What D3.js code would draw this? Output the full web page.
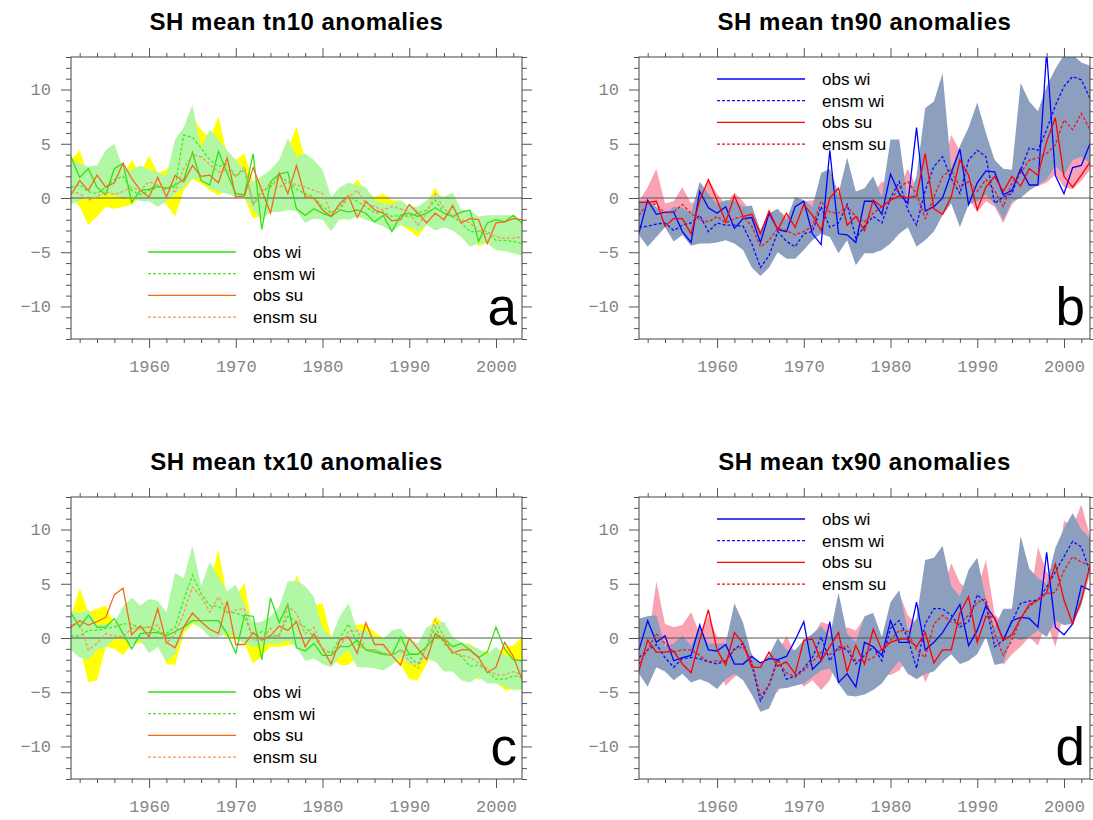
<!DOCTYPE html>
<html>
<head>
<meta charset="utf-8">
<script src="https://cdn.jsdelivr.net/npm/d3@7/dist/d3.min.js"></script>
<style>
  body { margin: 0; background: #fff; }
  svg text { font-family: "Liberation Sans", Arial, sans-serif; }
  .tick text { font-family: "Liberation Mono", "DejaVu Sans Mono", monospace; fill: #858585; }
</style>
</head>
<body>
<div id="chart"></div>
<script>
// years on the x axis
var years = [1951,1952,1953,1954,1955,1956,1957,1958,1959,1960,1961,1962,1963,1964,1965,1966,1967,1968,1969,1970,
  1971,1972,1973,1974,1975,1976,1977,1978,1979,1980,1981,1982,1983,1984,1985,1986,1987,1988,1989,1990,
  1991,1992,1993,1994,1995,1996,1997,1998,1999,2000,2001,2002,2003];
var yearTicks = [1960, 1970, 1980, 1990, 2000];
var valueTicks = [-10, -5, 0, 5, 10];
var legendLabels = ["obs wi", "ensm wi", "obs su", "ensm su"];

// ---- tn10 ----
var tn10WiHi = [3.5,3.2,2.9,3.0,4.4,5.0,2.7,2.6,3.0,2.6,2.4,2.0,5.4,6.5,8.6,4.6,6.3,5.4,4.4,3.5,2.6,1.4,2.0,2.6,3.5,5.5,3.8,
  4.1,3.5,2.6,0.1,1.0,1.4,1.2,1.0,-0.2,-0.5,-0.5,-0.2,-0.8,-0.8,-0.2,0.4,0.1,0.5,-1.1,-1.1,-1.7,-1.6,-1.6,-1.6,-1.6,-2.2];
var tn10WiLo = [-0.6,-0.2,0.0,0.1,0.4,0.3,0.0,0.1,-0.3,-0.3,-0.8,-0.3,0.4,1.0,1.8,1.8,0.9,0.6,0.4,0.1,0.1,-1.1,-2.0,-1.3,-1.3,-1.1,-1.2,
  -2.3,-1.9,-2.0,-3.1,-1.9,-2.0,-1.7,-2.0,-2.3,-2.6,-3.1,-2.5,-2.7,-3.1,-2.5,-3.0,-2.7,-3.0,-3.6,-4.5,-4.2,-4.2,-4.8,-4.9,-5.1,-5.3];
var tn10SuHi = [3.5,4.4,2.0,2.6,4.3,2.6,2.0,3.5,2.3,3.9,2.3,2.6,3.9,5.0,7.5,6.3,5.5,7.5,4.0,3.5,4.1,1.5,2.0,2.5,3.0,4.5,6.6,
  3.5,3.5,1.4,-0.5,0.1,0.7,1.7,0.7,0.1,0.4,-0.2,-0.2,-0.8,-0.8,-0.5,1.0,-0.5,-0.8,-1.7,-2.0,-2.6,-2.0,-2.9,-2.9,-3.4,-3.6];
var tn10SuLo = [0.1,-0.8,-2.5,-1.7,-0.8,-1.0,-0.8,-0.6,0.1,-0.2,0.0,-0.6,-1.7,0.7,1.7,1.4,0.7,0.3,0.6,0.1,0.0,-1.9,-1.6,-0.8,-0.8,0.4,-0.2,
  -1.7,-1.7,-1.4,-2.2,-2.0,-1.9,-1.4,-1.4,-1.1,-1.4,-2.0,-2.5,-3.0,-3.6,-2.5,-1.7,-1.6,-1.9,-2.3,-3.0,-4.5,-4.1,-4.4,-4.5,-4.7,-5.1];
var tn10ObsWi = [3.8,1.9,2.7,1.0,0.3,2.7,3.2,-0.4,0.7,0.8,1.1,0.9,1.2,1.7,4.2,1.6,1.2,4.3,2.3,0.4,0.3,4.1,-2.9,1.5,2.2,2.4,-1.0,
  -1.6,-1.0,-1.4,-1.7,-1.1,-1.3,-1.1,-1.4,-2.2,-1.6,-3.1,-1.6,-1.4,-1.7,-1.4,-0.9,-1.4,-1.7,-1.3,-1.1,-4.0,-2.3,-2.0,-2.2,-1.6,-2.3];
var tn10EnsWi = [1.0,1.2,0.6,0.4,1.0,1.7,2.0,0.7,0.3,0.7,1.0,0.9,1.0,5.8,5.6,4.6,3.5,2.9,3.1,2.0,2.6,-0.6,0.7,1.0,2.0,1.5,0.8,
  0.4,0.1,-0.8,-1.4,-0.8,0.1,-0.3,-0.8,-1.4,-1.3,-1.7,-1.6,-1.7,-1.4,-1.1,-0.2,-1.4,-1.7,-2.3,-3.1,-3.1,-3.3,-3.9,-3.9,-4.0,-4.2];
var tn10ObsSu = [0.3,1.6,0.7,2.1,1.0,1.4,3.2,1.8,0.7,0.1,1.9,0.1,2.1,1.5,3.0,2.0,2.1,1.4,3.7,0.1,0.2,2.8,0.7,-1.4,2.3,0.4,3.0,
  0.1,0.0,-1.1,-1.7,-0.5,0.2,-1.8,-0.3,-1.1,-1.4,-2.1,-2.0,-0.6,-1.4,-2.3,-1.4,-2.0,-0.7,-2.3,-1.9,-2.0,-4.2,-2.3,-2.2,-1.9,-2.0];
var tn10EnsSu = [0.6,0.4,-0.2,0.1,0.6,0.3,0.6,1.0,0.7,1.5,1.2,0.7,0.6,2.7,4.0,3.8,3.1,2.4,2.6,2.0,2.9,-0.6,0.4,1.4,1.0,1.5,1.2,
  1.0,0.7,0.4,-1.4,-1.1,0.1,0.7,-0.5,-0.8,-1.1,-0.8,-1.0,-1.4,-2.5,-1.4,0.4,-1.0,-1.6,-2.0,-2.3,-3.0,-3.1,-3.6,-3.7,-3.7,-3.6];

// ---- tn90 ----
var tn90WiHi = [-0.3,-0.2,-0.8,-1.6,-0.8,-0.9,-1.4,1.5,0.4,-0.5,-0.2,-0.2,-0.8,-0.7,-3.0,-1.4,-1.0,-2.0,0.1,-0.2,-0.8,2.3,2.7,0.4,3.7,0.6,0.9,
  2.0,0.1,5.4,5.4,-0.3,2.0,8.3,8.9,11.5,2.7,4.8,6.5,8.8,6.0,3.5,2.7,2.6,10.6,8.9,8.0,10.3,11.9,13.2,13.2,12.5,12.2];
var tn90WiLo = [-3.4,-4.5,-3.6,-2.7,-4.0,-3.4,-4.4,-4.2,-4.2,-4.1,-3.9,-4.2,-4.8,-6.4,-7.2,-6.4,-5.0,-5.6,-5.6,-4.8,-3.9,-3.3,-3.6,-5.1,-3.9,-6.2,-5.1,
  -5.1,-4.8,-4.2,-3.3,-2.7,-4.5,-3.9,-3.1,-1.6,-0.5,-2.7,-0.6,-0.3,0.3,-0.5,-2.0,-0.3,0.0,0.7,1.2,1.7,3.0,2.1,3.5,3.8,3.2];
var tn90SuHi = [-0.3,1.0,2.7,-0.5,-0.3,1.0,-0.5,0.1,1.7,0.4,-0.6,0.5,-0.3,-1.4,-3.0,-1.7,-1.1,-1.7,-1.4,-0.3,-0.2,0.1,0.1,-0.2,-0.3,0.4,-0.2,
  0.5,1.5,1.4,1.0,2.7,1.0,4.2,1.0,2.5,5.8,4.3,3.0,1.5,4.4,3.6,1.4,2.2,2.6,3.8,3.2,5.5,7.6,5.0,6.0,7.9,6.5];
var tn90SuLo = [-0.6,-0.8,-0.5,-2.5,-2.3,-2.0,-3.1,-2.0,-2.2,-2.0,-2.6,-2.4,-2.4,-3.1,-4.8,-4.3,-3.6,-3.6,-3.9,-3.6,-3.1,-1.4,-2.4,-1.7,-1.4,-2.4,-3.0,
  -2.0,-1.4,-1.0,-0.6,-0.3,-1.2,-2.0,-1.2,-1.5,-0.2,0.1,0.0,-1.3,-0.3,-0.8,-2.3,-0.6,0.2,0.9,1.1,1.4,2.2,1.0,0.8,1.6,2.6];
var tn90ObsWi = [-3.2,-0.2,-1.5,-1.3,-1.3,-3.1,-4.1,0.6,-0.9,-1.4,-0.8,-2.8,-1.9,-1.8,-4.1,-1.4,-2.9,-3.1,-0.8,-0.3,-3.3,-4.3,4.4,-3.3,-3.4,-4.1,-0.3,
  -0.3,-1.5,2.2,0.4,-0.5,6.5,-1.2,-0.8,0.0,2.3,4.5,-0.6,1.4,2.5,2.4,0.3,0.7,2.7,1.2,1.2,13.5,2.1,0.4,2.8,3.0,5.0];
var tn90EnsWi = [-2.7,-2.6,-2.4,-2.3,-3.0,-2.5,-2.3,-1.6,-3.1,-2.3,-2.5,-2.5,-2.6,-4.2,-6.4,-5.3,-3.1,-4.0,-4.5,-3.3,-3.1,-0.8,-2.7,-2.3,-0.6,-3.7,-2.6,
  -1.7,-2.3,0.0,1.5,-1.1,-2.5,0.7,2.9,3.8,1.8,0.4,3.5,4.4,3.8,-0.5,0.1,0.4,2.6,4.6,4.4,6.3,8.5,10.3,11.2,10.9,9.2];
var tn90ObsSu = [-0.4,-0.4,-0.3,-2.6,-1.9,-1.9,-3.3,-0.2,1.7,-0.2,-2.2,0.2,-1.7,-1.5,-3.3,-1.2,-2.9,-1.4,-2.7,-0.6,-1.6,-3.0,0.0,0.9,-2.5,-1.7,-3.0,
  -0.2,-0.8,-0.2,0.2,0.0,0.2,4.1,-1.0,-1.5,0.1,3.5,2.1,-1.1,1.0,2.0,0.6,2.0,1.1,2.7,2.1,5.2,7.4,2.0,1.0,2.1,3.3];
var tn90EnsSu = [-1.6,-0.5,-0.6,-1.4,-1.3,-0.6,-1.4,-2.0,-2.2,-1.7,-2.3,-1.9,-1.7,-2.6,-4.5,-3.9,-2.8,-3.0,-3.4,-3.1,-2.6,-0.3,-1.3,-1.4,-0.8,-1.7,-2.2,
  -1.4,-0.8,-0.3,1.0,1.5,0.4,-1.9,0.1,2.0,2.6,1.0,1.5,0.6,1.7,0.7,-0.8,1.4,2.3,3.5,3.7,4.1,4.9,7.2,6.3,7.8,6.3];

// ---- tx10 ----
var tx10WiHi = [2.5,2.3,2.6,1.2,1.3,1.4,2.9,3.7,3.0,3.6,3.4,2.4,6.0,5.5,8.5,4.8,7.0,5.6,4.3,4.9,3.1,1.4,1.5,2.0,2.9,5.2,5.3,
  4.8,3.8,0.9,0.1,2.0,3.2,0.7,0.7,0.1,-0.1,0.7,0.9,-0.1,-0.5,1.0,1.3,1.5,0.1,-0.4,-0.7,-1.0,-1.5,-0.8,-1.6,-1.9,-2.1];
var tx10WiLo = [-1.1,-1.8,-2.0,-1.1,-0.8,-0.1,-0.1,-0.7,-0.2,-1.4,-0.8,-2.2,-1.5,0.7,1.5,0.9,0.1,0.1,0.4,0.1,-0.5,-0.8,-0.7,-0.5,-0.5,-0.2,-0.8,
  -2.1,-1.9,-2.4,-2.7,-1.7,-1.1,-2.7,-2.7,-2.8,-3.0,-2.5,-1.8,-2.5,-2.4,-1.9,-2.2,-3.1,-3.1,-3.9,-4.1,-3.6,-4.2,-4.2,-4.5,-4.8,-4.7];
var tx10SuHi = [2.0,4.6,2.4,2.7,3.0,1.3,1.3,1.5,0.1,1.5,0.9,2.3,3.0,4.0,6.0,4.0,5.0,8.1,3.8,3.8,5.1,0.5,1.0,1.5,2.0,3.0,5.8,
  4.0,3.0,3.2,0.1,1.0,1.5,1.2,1.3,0.5,0.0,0.1,0.4,0.1,-0.8,0.4,2.0,1.3,-0.2,-0.5,-0.5,-1.2,-1.2,-1.5,-0.8,-0.7,0.1];
var tx10SuLo = [-0.1,-0.8,-4.1,-3.9,-0.8,-1.0,-1.6,-0.5,-0.5,-0.4,-0.4,-2.4,-2.5,0.4,1.3,1.0,0.5,0.5,0.1,-0.1,-0.5,-2.4,-1.6,-0.8,-0.8,-0.7,-0.5,
  -0.9,-1.1,-1.6,-1.8,-2.5,-2.5,-1.8,-1.5,-1.6,-1.6,-1.8,-2.4,-3.8,-3.9,-2.4,-0.8,-1.0,-1.8,-3.0,-3.0,-3.9,-3.3,-4.1,-4.8,-4.7,-4.8];
var tx10ObsWi = [2.3,1.0,2.1,1.0,1.0,1.8,0.4,-1.0,0.4,0.5,0.5,0.2,0.6,1.0,1.6,1.6,1.6,1.6,0.4,-1.4,2.1,2.0,-2.0,3.7,1.4,3.1,-0.9,
  -1.2,-0.5,-1.6,-1.6,-0.8,-0.8,-0.2,-1.1,-1.3,-1.5,-1.6,0.1,-1.5,-1.5,-0.8,0.1,0.0,-0.8,-0.5,-1.1,-1.8,-1.3,1.0,-1.0,-2.0,-2.1];
var tx10EnsWi = [0.2,0.2,0.7,0.7,0.9,1.0,1.3,1.3,0.9,1.0,0.6,0.4,1.0,3.5,5.8,4.1,3.0,2.9,2.4,2.3,2.0,0.0,0.6,0.1,0.3,2.0,1.5,
  1.0,0.1,-1.0,-1.4,0.0,1.3,-0.5,-1.1,-1.1,-1.4,-1.6,-1.1,-1.7,-2.4,-0.8,1.0,-0.5,-1.3,-1.7,-2.6,-2.5,-3.0,-3.8,-3.8,-3.5,-3.6];
var tx10ObsSu = [1.0,1.6,1.2,1.5,1.9,4.0,4.6,0.3,1.1,0.1,2.7,-0.4,-0.9,1.0,2.3,1.5,0.8,0.4,3.4,-0.6,-0.6,0.5,-0.2,0.2,1.1,0.7,1.5,
  -0.8,0.4,-1.0,-2.4,-0.2,0.1,-1.4,1.4,-0.6,-0.6,-1.6,-2.5,0.0,-1.0,-2.0,0.4,-0.2,-1.4,-1.1,-1.1,-1.8,-3.2,-2.7,-0.4,-1.7,-3.8];
var tx10EnsSu = [1.2,1.4,-1.1,-0.5,0.4,0.2,0.1,0.9,1.0,1.0,1.2,-0.5,0.4,2.3,4.7,3.8,2.4,3.8,2.3,2.6,2.7,-0.2,-0.2,0.9,0.0,2.9,2.3,
  0.4,1.0,-1.1,-1.4,-0.8,0.6,0.7,-1.1,-1.1,-1.4,-1.6,-1.1,-2.1,-2.8,-0.8,1.7,0.1,-1.3,-1.6,-1.8,-2.3,-2.8,-3.4,-3.4,-3.1,-3.4];

// ---- tx90 ----
var tx90WiHi = [1.8,2.0,2.1,-0.8,-0.5,0.2,-0.7,1.0,-0.5,-0.5,-0.5,3.2,1.4,-1.6,-2.4,-1.6,0.0,-1.1,-1.1,-0.2,0.4,1.1,0.1,4.2,0.4,-0.4,2.0,
  2.3,0.1,3.3,4.4,0.7,1.8,7.2,7.4,8.5,4.8,3.8,6.3,7.4,3.6,1.0,2.7,2.7,9.4,6.4,5.5,5.0,8.3,10.1,11.5,10.0,9.2];
var tx90WiLo = [-3.3,-4.5,-2.7,-3.1,-3.9,-3.3,-4.1,-3.8,-4.1,-4.7,-3.8,-3.3,-3.9,-5.2,-6.8,-6.5,-4.7,-4.6,-4.4,-4.2,-3.6,-3.0,-2.8,-4.2,-5.3,-5.4,-5.2,
  -4.8,-4.2,-3.1,-2.1,-3.3,-3.8,-3.3,-3.1,-2.2,-1.5,-2.4,-2.1,-1.5,0.1,-2.5,-2.3,0.1,-0.2,0.1,0.7,0.1,1.6,1.2,1.3,3.0,6.3];
var tx90SuHi = [-0.3,-0.5,5.2,1.3,1.0,1.2,2.4,0.4,2.0,0.1,0.1,0.1,-1.0,-1.4,-3.3,-3.2,-1.4,0.2,-1.4,-0.8,0.1,1.5,1.2,0.5,1.0,0.7,1.9,
  1.4,-0.8,1.6,4.1,2.1,1.3,4.4,3.5,4.4,6.9,5.1,4.4,4.4,7.2,2.2,1.3,1.5,1.3,3.2,8.4,6.1,5.0,10.8,10.3,12.3,9.4];
var tx90SuLo = [-2.4,-2.5,-2.7,-2.8,-3.0,-3.1,-3.1,-1.1,-2.1,-2.4,-4.4,-3.6,-3.0,-4.1,-5.3,-5.1,-5.0,-3.4,-3.4,-4.5,-3.9,-4.8,-3.9,-1.8,-4.2,-3.9,-3.6,
  -4.8,-3.4,-3.4,-3.0,-1.9,-1.5,-4.1,-2.4,-0.8,-0.2,-0.5,-1.5,-0.5,2.0,-0.4,-2.5,-1.5,-0.8,0.1,-0.7,1.5,-0.8,2.3,1.6,3.2,5.8];
var tx90ObsWi = [-1.1,1.6,-0.4,0.2,-2.1,-1.8,-1.6,1.2,-1.1,-1.2,-0.6,-2.4,-2.4,-1.7,-2.3,-1.9,-2.0,-1.7,-0.2,1.5,-2.9,-2.1,1.5,-4.1,-3.3,-4.5,-0.4,
  -0.8,-1.6,1.6,-0.4,-0.4,3.3,-1.1,-0.4,0.5,1.8,3.1,-0.7,0.7,3.0,1.8,-0.2,1.6,1.9,1.8,1.0,7.9,1.0,0.3,1.3,4.8,4.4];
var tx90EnsWi = [-1.8,-1.1,-0.6,-1.8,-2.7,-1.9,-1.8,-1.9,-2.2,-2.4,-2.1,-1.0,-0.5,-2.4,-5.8,-4.3,-1.9,-3.8,-3.5,-2.8,-1.8,0.1,-2.1,-0.8,-1.1,-2.4,-1.6,
  -0.8,-2.1,0.9,1.6,0.0,-2.8,1.3,2.7,2.7,2.1,1.0,1.5,4.0,3.2,-0.8,-0.2,1.5,3.2,3.4,3.5,4.7,6.1,7.5,8.9,8.4,6.1];
var tx90ObsSu = [-3.0,-0.2,-1.3,-1.3,-1.2,-2.4,-3.2,-0.2,2.6,-1.1,-2.5,0.5,-0.5,-2.7,-2.7,-1.3,-2.6,-2.2,-3.3,-0.2,-0.1,-2.1,-0.8,0.5,-3.1,-0.7,-2.4,
  0.8,-1.1,-0.4,-0.1,-0.1,-0.8,0.5,-2.3,-1.1,-1.1,2.3,3.8,-0.4,2.0,1.9,-0.2,0.3,1.8,3.1,3.5,4.2,6.8,3.5,1.3,3.5,6.7];
var tx90EnsSu = [-2.4,-1.1,0.4,-0.5,-1.3,-1.1,-1.1,-1.6,-2.2,-2.1,-2.1,-1.1,-0.8,-2.2,-5.3,-4.4,-2.1,-3.2,-3.6,-3.0,-2.2,-1.3,-1.5,-1.1,-0.7,-2.1,-2.2,
  -1.8,-1.0,-0.2,0.7,0.6,-1.1,-1.8,1.3,2.1,1.5,1.3,2.1,3.3,3.6,0.4,-1.6,-0.2,1.8,2.9,3.5,4.1,4.2,6.2,7.5,7.0,6.7];

// colour sets
var greenSet = {wiBand: "#b2f7a4", suBand: "#ffff00", wi: "#33e015", wiEns: "#44ea22", su: "#f26b1d", suEns: "#f5965a"};
var blueSet  = {wiBand: "#8c9fbf", suBand: "#f8a2b3", wi: "#0000ff", wiEns: "#0a0aff", su: "#ff0000", suEns: "#f01515"};

var panels = [
  {title: "SH mean tn10 anomalies", letter: "a", left: 71, top: 57, colors: greenSet, legendTop: true,
   wiHi: tn10WiHi, wiLo: tn10WiLo, suHi: tn10SuHi, suLo: tn10SuLo, obsWi: tn10ObsWi, ensWi: tn10EnsWi, obsSu: tn10ObsSu, ensSu: tn10EnsSu},
  {title: "SH mean tn90 anomalies", letter: "b", left: 639, top: 57, colors: blueSet, legendTop: false,
   wiHi: tn90WiHi, wiLo: tn90WiLo, suHi: tn90SuHi, suLo: tn90SuLo, obsWi: tn90ObsWi, ensWi: tn90EnsWi, obsSu: tn90ObsSu, ensSu: tn90EnsSu},
  {title: "SH mean tx10 anomalies", letter: "c", left: 71, top: 497, colors: greenSet, legendTop: true,
   wiHi: tx10WiHi, wiLo: tx10WiLo, suHi: tx10SuHi, suLo: tx10SuLo, obsWi: tx10ObsWi, ensWi: tx10EnsWi, obsSu: tx10ObsSu, ensSu: tx10EnsSu},
  {title: "SH mean tx90 anomalies", letter: "d", left: 639, top: 497, colors: blueSet, legendTop: false,
   wiHi: tx90WiHi, wiLo: tx90WiLo, suHi: tx90SuHi, suLo: tx90SuLo, obsWi: tx90ObsWi, ensWi: tx90EnsWi, obsSu: tx90ObsSu, ensSu: tx90EnsSu}
];

var width = 451, height = 282;

var svg = d3.select("#chart")
  .append("svg")
    .attr("width", 1093)
    .attr("height", 820);

var xScale = d3.scaleLinear().domain([1951, 2003]).range([0, width]);
var yScale = d3.scaleLinear().domain([-13, 13]).range([height, 0]);

var minorYears = years.filter(function(y) { return y % 2 === 0 && y % 10 !== 0; });
var minorValues = d3.range(-13, 14).filter(function(v) { return v % 5 !== 0; });
var fmt = function(v) { return v < 0 ? "\u2212" + Math.abs(v) : String(v); };

panels.forEach(function(p, pi) {
  var g = svg.append("g").attr("transform", "translate(" + p.left + "," + p.top + ")");
  var c = p.colors;

  g.append("clipPath").attr("id", "clip" + pi)
    .append("rect").attr("width", width).attr("height", height);
  var plot = g.append("g").attr("clip-path", "url(#clip" + pi + ")");

  var band = function(hi, lo) {
    return d3.area()
      .x(function(d, i) { return xScale(years[i]); })
      .y0(function(d, i) { return yScale(lo[i]); })
      .y1(function(d, i) { return yScale(hi[i]); })(hi);
  };
  var line = function(vals) {
    return d3.line()
      .x(function(d, i) { return xScale(years[i]); })
      .y(function(d) { return yScale(d); })(vals);
  };

  // summer range below, winter range on top
  plot.append("path").attr("d", band(p.suHi, p.suLo)).attr("fill", c.suBand);
  plot.append("path").attr("d", band(p.wiHi, p.wiLo)).attr("fill", c.wiBand);

  plot.append("line")
    .attr("x1", 0).attr("x2", width)
    .attr("y1", yScale(0)).attr("y2", yScale(0))
    .attr("stroke", "#555").attr("stroke-width", 1);

  var series = [
    {vals: p.obsWi, color: c.wi, dash: null},
    {vals: p.ensWi, color: c.wiEns, dash: "3,2"},
    {vals: p.obsSu, color: c.su, dash: null},
    {vals: p.ensSu, color: c.suEns, dash: "3,2"}
  ];
  series.forEach(function(s) {
    plot.append("path")
      .attr("d", line(s.vals))
      .attr("fill", "none")
      .attr("stroke", s.color)
      .attr("stroke-width", 1.3)
      .attr("stroke-dasharray", s.dash);
  });

  // axes: major + minor ticks on all four sides
  var axes = [
    {ax: d3.axisBottom(xScale).tickValues(yearTicks).tickSize(9).tickPadding(12).tickFormat(d3.format("d")), t: "translate(0," + height + ")"},
    {ax: d3.axisBottom(xScale).tickValues(minorYears).tickSize(4).tickFormat(""), t: "translate(0," + height + ")"},
    {ax: d3.axisTop(xScale).tickValues(yearTicks).tickSize(9).tickFormat(""), t: null},
    {ax: d3.axisTop(xScale).tickValues(minorYears).tickSize(4).tickFormat(""), t: null},
    {ax: d3.axisLeft(yScale).tickValues(valueTicks).tickSize(10).tickPadding(10).tickFormat(fmt), t: null},
    {ax: d3.axisLeft(yScale).tickValues(minorValues).tickSize(5).tickFormat(""), t: null},
    {ax: d3.axisRight(yScale).tickValues(valueTicks).tickSize(10).tickFormat(""), t: "translate(" + width + ",0)"},
    {ax: d3.axisRight(yScale).tickValues(minorValues).tickSize(5).tickFormat(""), t: "translate(" + width + ",0)"}
  ];
  axes.forEach(function(a) {
    var ag = g.append("g").attr("transform", a.t).call(a.ax);
    ag.select(".domain").remove();
    ag.selectAll(".tick line").attr("stroke", "#555");
    ag.selectAll(".tick text").attr("font-size", "17px");
  });

  g.append("rect")
    .attr("width", width).attr("height", height)
    .attr("fill", "none").attr("stroke", "#444").attr("stroke-width", 1);

  g.append("text")
    .attr("x", width / 2)
    .attr("y", -27)
    .attr("text-anchor", "middle")
    .attr("font-size", "24px")
    .attr("letter-spacing", "0.5px")
    .attr("font-weight", "bold")
    .text(p.title);

  g.append("text")
    .attr("x", width - 5)
    .attr("y", 268)
    .attr("text-anchor", "end")
    .attr("font-size", "53px")
    .text(p.letter);

  // legend
  var lx0 = p.legendTop ? 77 : 78, ly0 = p.legendTop ? 195 : 22;
  series.forEach(function(s, i) {
    var yy = ly0 + i * 21.7;
    g.append("line")
      .attr("x1", lx0).attr("x2", lx0 + 88)
      .attr("y1", yy).attr("y2", yy)
      .attr("stroke", s.color).attr("stroke-width", 1.3)
      .attr("stroke-dasharray", s.dash);
    g.append("text")
      .attr("x", lx0 + 105).attr("y", yy + 6)
      .attr("font-size", "17px")
      .text(legendLabels[i]);
  });
});
</script>
</body>
</html>
